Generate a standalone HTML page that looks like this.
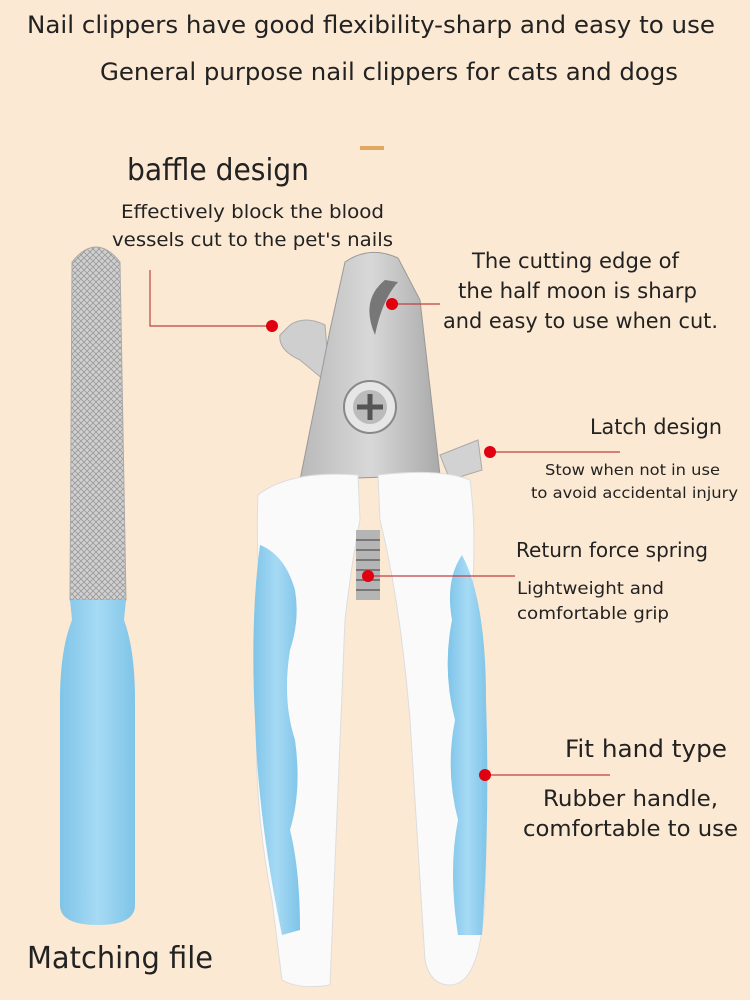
<!DOCTYPE html>
<html><head><meta charset="utf-8"><style>
html,body{margin:0;padding:0;background:#fce9d3;}
svg{display:block}
text{font-family:"DejaVu Sans","Liberation Sans",sans-serif;fill:#222;}
</style></head><body>
<svg width="750" height="1000" viewBox="0 0 750 1000" xmlns="http://www.w3.org/2000/svg">
<defs>
<linearGradient id="metal" x1="0" x2="1"><stop offset="0" stop-color="#b9b9b9"/><stop offset="0.5" stop-color="#d8d8d8"/><stop offset="1" stop-color="#a9a9a9"/></linearGradient>
<linearGradient id="blue" x1="0" x2="1"><stop offset="0" stop-color="#7fc4e8"/><stop offset="0.5" stop-color="#a6daf4"/><stop offset="1" stop-color="#7fc4e8"/></linearGradient>
<pattern id="knurl" width="6" height="6" patternUnits="userSpaceOnUse"><rect width="6" height="6" fill="#d0d0d0"/><path d="M0 0L6 6M6 0L0 6" stroke="#999" stroke-width="0.8"/></pattern>
</defs>
<rect width="750" height="1000" fill="#fce9d3"/>
<rect x="360" y="146" width="24" height="4" fill="#e0a860"/>

<!-- file -->
<path d="M72 262 Q96 232 120 262 L126 600 L70 600 Z" fill="url(#knurl)" stroke="#aaa"/>
<path d="M70 600 L126 600 L124 620 Q135 650 135 700 L135 905 Q135 925 98 925 Q60 925 60 905 L60 700 Q60 650 72 620 Z" fill="url(#blue)"/>

<!-- clipper head -->
<path d="M290 325 Q305 315 325 325 L330 385 L300 360 Q278 350 280 335 Z" fill="#cfcfcf" stroke="#aaa"/>
<path d="M440 455 L478 440 L482 470 L450 480 Z" fill="#d2d2d2" stroke="#aaa"/>
<path d="M345 262 Q370 245 398 258 L420 300 L440 475 L300 480 L310 430 L330 330 Z" fill="url(#metal)" stroke="#999"/>
<path d="M385 280 Q360 300 375 335 Q382 300 398 282 Z" fill="#777"/>
<circle cx="370" cy="407" r="26" fill="#e6e6e6" stroke="#888" stroke-width="2"/>
<circle cx="370" cy="407" r="17" fill="#bbb"/>
<path d="M370 394 V420 M357 407 H383" stroke="#555" stroke-width="5"/>

<!-- handles -->
<path d="M258 495 Q290 470 358 475 L360 520 Q352 560 345 620 L330 985 Q300 990 282 980 L272 900 Q245 760 265 640 Q255 560 258 495 Z" fill="#fafafa" stroke="#ddd"/>
<path d="M260 545 Q285 555 295 590 Q300 620 290 650 Q282 700 295 740 Q302 790 290 830 Q300 870 300 930 L282 935 Q258 820 255 720 Q250 620 260 545 Z" fill="url(#blue)"/>
<path d="M378 475 Q440 468 470 480 Q478 540 470 620 Q490 760 485 900 Q480 985 450 985 Q430 985 425 960 L410 720 Q400 600 380 520 Z" fill="#fafafa" stroke="#ddd"/>
<path d="M462 555 Q486 600 486 700 Q490 820 482 935 L458 935 Q448 870 458 820 Q445 770 455 720 Q442 670 452 620 Q445 580 462 555 Z" fill="url(#blue)"/>
<rect x="356" y="530" width="24" height="70" fill="#b5b5b5"/>
<path d="M356 540 H380 M356 550 H380 M356 560 H380 M356 570 H380 M356 580 H380 M356 590 H380" stroke="#777" stroke-width="2"/>

<!-- connectors -->
<g stroke="#c04040" stroke-width="1.2" fill="none">
<path d="M150 270 V326 H272"/>
<path d="M392 304 H440"/>
<path d="M490 452 H620"/>
<path d="M368 576 H515"/>
<path d="M485 775 H610"/>
</g>
<g fill="#e0000f">
<circle cx="272" cy="326" r="6"/><circle cx="392" cy="304" r="6"/><circle cx="490" cy="452" r="6"/><circle cx="368" cy="576" r="6"/><circle cx="485" cy="775" r="6"/>
</g>

<!-- text -->
<text x="27" y="33" font-size="24" textLength="688" lengthAdjust="spacingAndGlyphs">Nail clippers have good flexibility-sharp and easy to use</text>
<text x="100" y="80" font-size="24" textLength="578" lengthAdjust="spacingAndGlyphs">General purpose nail clippers for cats and dogs</text>
<text x="127" y="180" font-size="30" textLength="182" lengthAdjust="spacingAndGlyphs">baffle design</text>
<text x="121" y="218" font-size="19" textLength="263" lengthAdjust="spacingAndGlyphs">Effectively block the blood</text>
<text x="112" y="246" font-size="19" textLength="281" lengthAdjust="spacingAndGlyphs">vessels cut to the pet's nails</text>
<text x="472" y="268" font-size="21" textLength="207" lengthAdjust="spacingAndGlyphs">The cutting edge of</text>
<text x="458" y="298" font-size="21" textLength="239" lengthAdjust="spacingAndGlyphs">the half moon is sharp</text>
<text x="443" y="328" font-size="21" textLength="275" lengthAdjust="spacingAndGlyphs">and easy to use when cut.</text>
<text x="590" y="434" font-size="21" textLength="132" lengthAdjust="spacingAndGlyphs">Latch design</text>
<text x="545" y="475" font-size="15" textLength="175" lengthAdjust="spacingAndGlyphs">Stow when not in use</text>
<text x="531" y="498" font-size="15" textLength="207" lengthAdjust="spacingAndGlyphs">to avoid accidental injury</text>
<text x="516" y="557" font-size="20" textLength="192" lengthAdjust="spacingAndGlyphs">Return force spring</text>
<text x="517" y="594" font-size="17" textLength="147" lengthAdjust="spacingAndGlyphs">Lightweight and</text>
<text x="517" y="619" font-size="17" textLength="152" lengthAdjust="spacingAndGlyphs">comfortable grip</text>
<text x="565" y="757" font-size="24" textLength="162" lengthAdjust="spacingAndGlyphs">Fit hand type</text>
<text x="543" y="806" font-size="22" textLength="175" lengthAdjust="spacingAndGlyphs">Rubber handle,</text>
<text x="523" y="836" font-size="22" textLength="215" lengthAdjust="spacingAndGlyphs">comfortable to use</text>
<text x="27" y="968" font-size="30" textLength="186" lengthAdjust="spacingAndGlyphs">Matching file</text>
</svg>
</body></html>
